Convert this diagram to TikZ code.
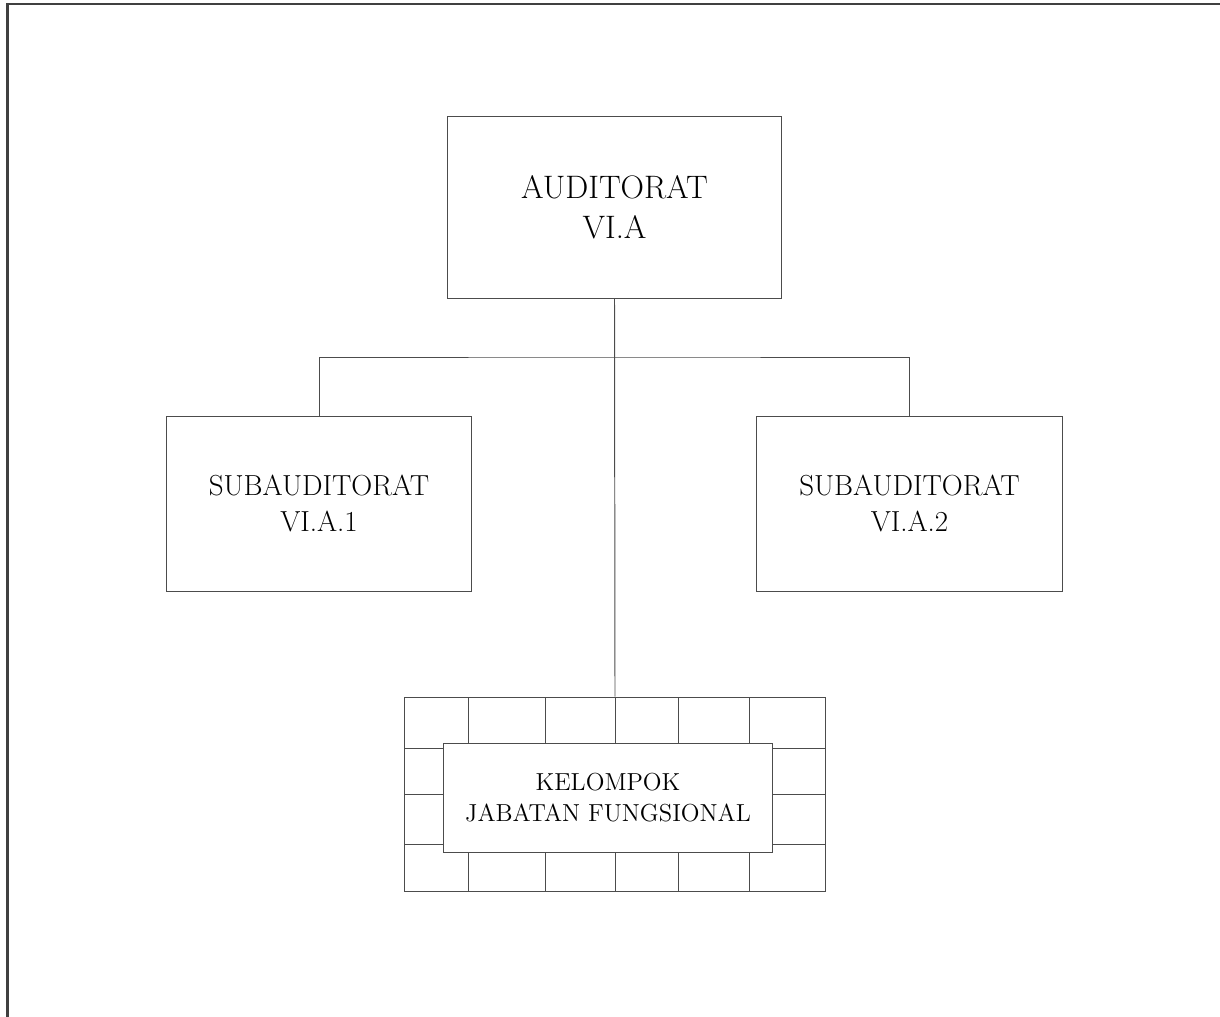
\documentclass[tikz,border=0pt]{standalone}
\usepackage{tikz}
\usetikzlibrary{positioning}

\begin{document}
\begin{tikzpicture}[x=0.02cm, y=-0.02cm]
			\tikzstyle{unit}=[rectangle, draw=black!70, line width=0.55pt, fill=white, align=center]
			\tikzstyle{big}=[unit, minimum width=6.7cm, minimum height=3.64cm, font=\fontsize{18.5}{23}\selectfont]
			\tikzstyle{sub}=[unit, minimum width=6.12cm, minimum height=3.5cm, font=\fontsize{16.5}{20.5}\selectfont]
			\tikzstyle{fung}=[unit, minimum width=6.6cm, minimum height=2.18cm, font=\fontsize{14}{18}\selectfont]
			\tikzstyle{line}=[draw=black!70, line width=0.55pt]

			\useasboundingbox (0,0) rectangle (1220,1017);
			\draw [line width=1.2pt, black!75] (7.5,1017) -- (7.5,4) -- (1220,4);

			\node[big] (aud) at (614.5,207) {AUDITORAT\\VI.A};
			\node[sub] (sub1) at (319,503.5) {SUBAUDITORAT\\VI.A.1};
			\node[sub] (sub2) at (909.5,503.5) {SUBAUDITORAT\\VI.A.2};
			\node[unit, minimum width=8.44cm, minimum height=3.88cm] (grid) at (615,794) {};

			% grid of the functional group
			\foreach \x in {468,545,615,678,749}
			\draw [line] (\x,697) -- (\x,891);
			\foreach \y in {748,794,844}
			\draw [line] (404,\y) -- (826,\y);

			\node[fung] (kjf) at (608,797.5) {KELOMPOK\\JABATAN FUNGSIONAL};

			\coordinate (branch) at (614.5,357);
			\draw [line] (aud.south) -- (grid.north);
			\draw [line] (sub1.north) |- (branch) -| (sub2.north);
		\end{tikzpicture}
\end{document}
